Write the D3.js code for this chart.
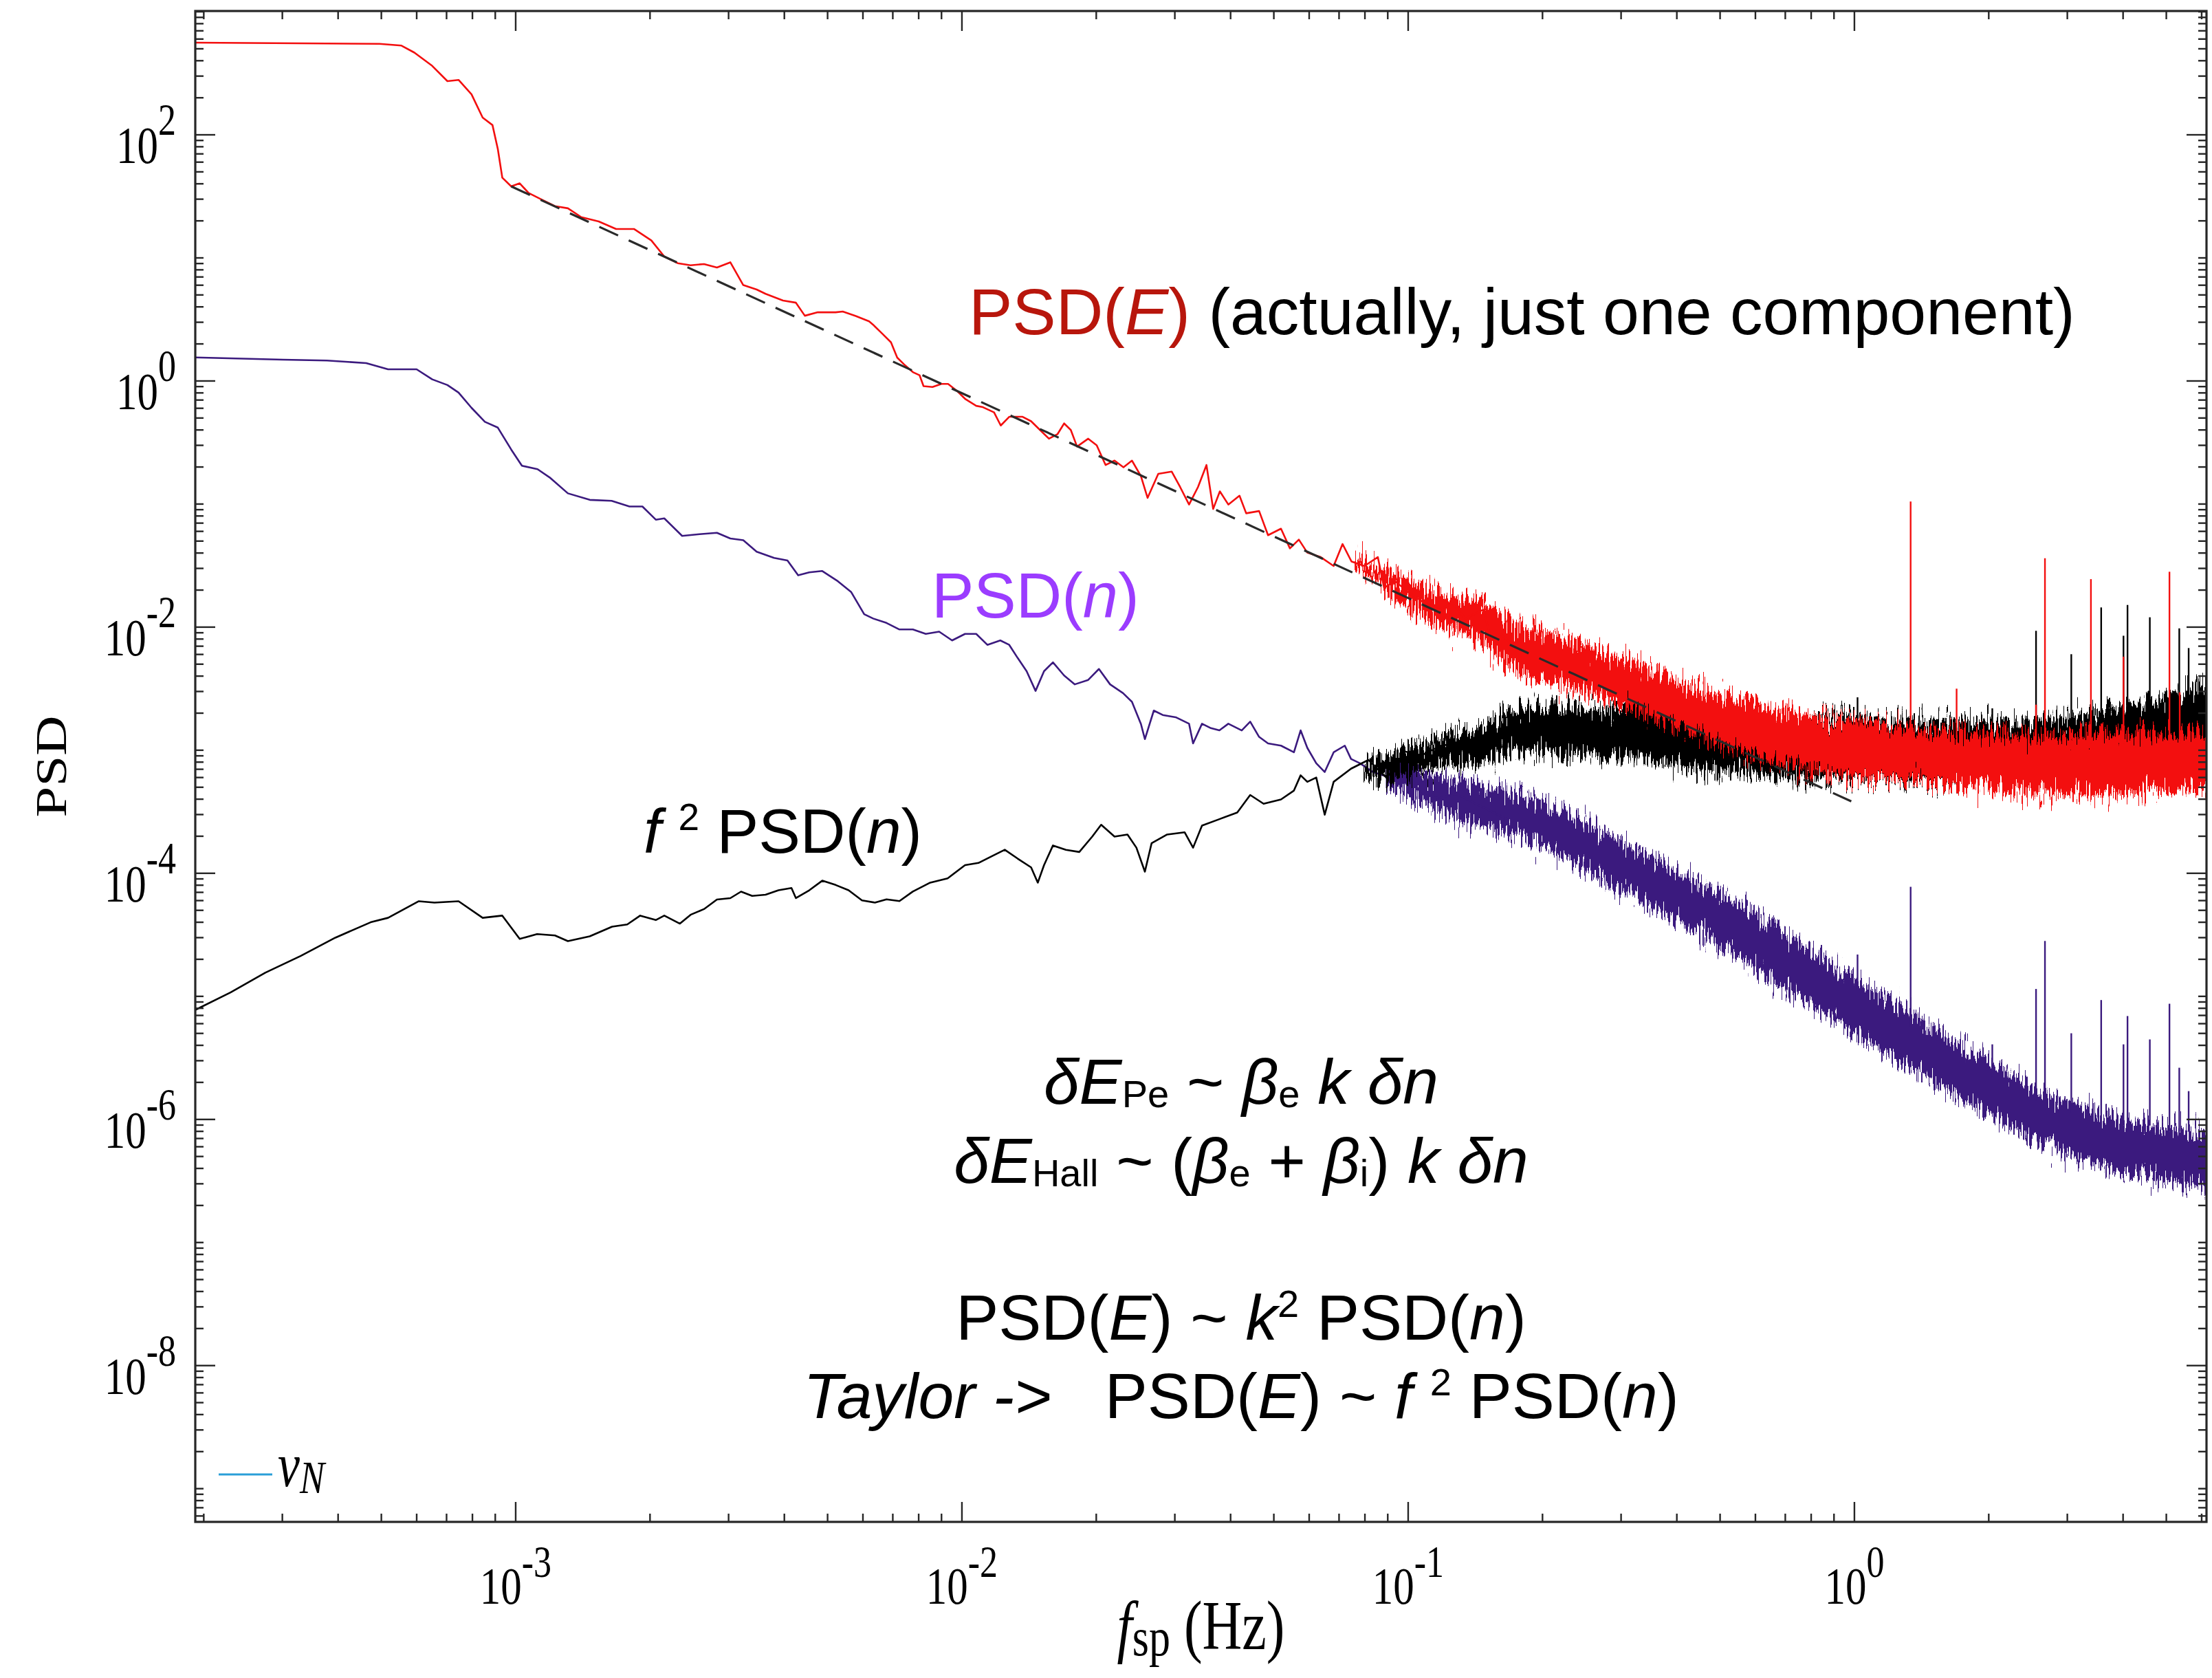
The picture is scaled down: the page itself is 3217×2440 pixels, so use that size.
<!DOCTYPE html>
<html>
<head>
<meta charset="utf-8">
<script src="https://cdn.jsdelivr.net/npm/d3@7"></script>
<style>
  html, body { margin: 0; padding: 0; background: #ffffff; }
  svg { display: block; }
  text { white-space: pre; }
</style>
</head>
<body>
<svg id="chart" width="3217" height="2440"></svg>
<script>
// ---------------------------------------------------------------
// Spectra, stored as [log10 f (Hz), log10 PSD] pairs
// ---------------------------------------------------------------

// PSD(E): resolved low-frequency part of the spectrum
const psdE_line = [
  [-3.718,2.749],[-3.423,2.742],[-3.305,2.739],[-3.256,2.725],[-3.227,2.668],[-3.187,2.560],
  [-3.153,2.436],[-3.128,2.446],[-3.099,2.329],[-3.074,2.140],[-3.052,2.079],[-3.040,1.884],
  [-3.030,1.652],[-3.010,1.581],[-2.991,1.606],[-2.971,1.527],[-2.942,1.474],[-2.912,1.421],
  [-2.883,1.403],[-2.853,1.331],[-2.814,1.296],[-2.775,1.235],[-2.735,1.235],[-2.696,1.142],
  [-2.667,1.011],[-2.637,0.957],[-2.608,0.940],[-2.578,0.950],[-2.549,0.922],[-2.519,0.964],
  [-2.490,0.779],[-2.460,0.743],[-2.440,0.708],[-2.401,0.654],[-2.372,0.636],[-2.352,0.530],
  [-2.323,0.558],[-2.283,0.558],[-2.267,0.564],[-2.238,0.528],[-2.208,0.485],[-2.199,0.457],
  [-2.179,0.386],[-2.159,0.314],[-2.145,0.190],[-2.130,0.136],[-2.110,0.072],[-2.095,0.047],
  [-2.086,-0.042],[-2.066,-0.049],[-2.046,-0.024],[-2.031,-0.024],[-2.012,-0.078],[-1.992,-0.148],
  [-1.968,-0.202],[-1.953,-0.213],[-1.928,-0.255],[-1.913,-0.362],[-1.894,-0.291],[-1.864,-0.291],
  [-1.845,-0.327],[-1.825,-0.398],[-1.805,-0.469],[-1.786,-0.433],[-1.771,-0.345],[-1.756,-0.398],
  [-1.742,-0.533],[-1.717,-0.469],[-1.698,-0.523],[-1.678,-0.683],[-1.658,-0.647],[-1.638,-0.701],
  [-1.619,-0.647],[-1.599,-0.772],[-1.584,-0.950],[-1.560,-0.754],[-1.530,-0.736],[-1.511,-0.862],
  [-1.491,-1.004],[-1.471,-0.862],[-1.452,-0.683],[-1.437,-1.040],[-1.422,-0.897],[-1.403,-1.004],
  [-1.378,-0.932],[-1.363,-1.075],[-1.334,-1.057],[-1.314,-1.253],[-1.285,-1.200],[-1.265,-1.360],
  [-1.245,-1.289],[-1.226,-1.395],[-1.196,-1.431],[-1.167,-1.503],[-1.147,-1.325],[-1.127,-1.467],
  [-1.098,-1.503],[-1.068,-1.431],[-1.054,-1.680],[-1.029,-1.627],[-1.000,-1.716],[-0.970,-1.788],
  [-0.931,-1.859],[-0.901,-1.806],[-0.872,-1.930],[-0.832,-1.859],[-0.813,-2.108],[-0.793,-2.055],
  [-0.766,-2.144]
];
// PSD(E): dense high-frequency noise band, [log10 f, upper, lower]
const psdE_band = [
  [-1.120,-1.42,-1.50],[-1.030,-1.56,-1.76],[-0.931,-1.72,-1.98],
  [-0.833,-1.80,-2.12],[-0.766,-1.97,-2.33],[-0.666,-2.06,-2.46],[-0.566,-2.20,-2.57],
  [-0.466,-2.31,-2.71],[-0.366,-2.49,-2.86],[-0.266,-2.57,-3.00],[-0.166,-2.67,-3.11],
  [-0.066,-2.73,-3.18],[0.034,-2.78,-3.24],[0.134,-2.82,-3.25],[0.234,-2.86,-3.29],
  [0.334,-2.87,-3.33],[0.434,-2.89,-3.36],[0.534,-2.87,-3.36],[0.634,-2.86,-3.34],
  [0.734,-2.86,-3.33],[0.789,-2.86,-3.31]
];

// PSD(n)
const psdN_line = [
  [-3.718,0.191],[-3.521,0.173],[-3.423,0.166],[-3.335,0.145],[-3.286,0.095],[-3.222,0.095],
  [-3.187,0.013],[-3.153,-0.033],[-3.128,-0.094],[-3.099,-0.218],[-3.069,-0.332],[-3.040,-0.379],
  [-3.010,-0.557],[-2.986,-0.689],[-2.951,-0.717],[-2.922,-0.789],[-2.883,-0.913],[-2.834,-0.966],
  [-2.785,-0.974],[-2.745,-1.020],[-2.716,-1.020],[-2.686,-1.127],[-2.667,-1.116],[-2.627,-1.259],
  [-2.588,-1.245],[-2.549,-1.234],[-2.519,-1.280],[-2.490,-1.294],[-2.460,-1.387],[-2.421,-1.437],
  [-2.391,-1.459],[-2.367,-1.579],[-2.342,-1.555],[-2.313,-1.544],[-2.278,-1.627],[-2.248,-1.716],
  [-2.219,-1.895],[-2.199,-1.930],[-2.169,-1.966],[-2.140,-2.019],[-2.110,-2.019],[-2.081,-2.055],
  [-2.051,-2.037],[-2.022,-2.108],[-1.993,-2.055],[-1.968,-2.055],[-1.943,-2.144],[-1.914,-2.108],
  [-1.894,-2.144],[-1.875,-2.251],[-1.855,-2.358],[-1.835,-2.518],[-1.816,-2.358],[-1.796,-2.286],
  [-1.771,-2.393],[-1.747,-2.465],[-1.717,-2.429],[-1.693,-2.340],[-1.668,-2.465],[-1.639,-2.536],
  [-1.619,-2.607],[-1.599,-2.785],[-1.590,-2.910],[-1.570,-2.678],[-1.550,-2.714],[-1.521,-2.732],
  [-1.491,-2.785],[-1.482,-2.945],[-1.462,-2.785],[-1.442,-2.821],[-1.423,-2.839],[-1.403,-2.785],
  [-1.373,-2.839],[-1.354,-2.768],[-1.334,-2.892],[-1.314,-2.945],[-1.285,-2.963],[-1.256,-3.017],
  [-1.241,-2.839],[-1.226,-2.981],[-1.206,-3.106],[-1.187,-3.177],[-1.167,-3.017],[-1.142,-2.963],
  [-1.128,-3.071],[-1.108,-3.106],[-1.079,-3.177],[-1.049,-3.213],[-1.030,-3.249],[-1.000,-3.177],
  [-0.971,-3.355],[-0.931,-3.391],[-0.892,-3.355],[-0.853,-3.426],[-0.813,-3.498],[-0.774,-3.569]
];
const psdN_band = [
  [-1.050,-3.12,-3.28],[-0.931,-3.22,-3.50],[-0.833,-3.30,-3.62],
  [-0.766,-3.35,-3.68],[-0.666,-3.46,-3.84],[-0.566,-3.66,-4.06],[-0.466,-3.85,-4.26],
  [-0.366,-4.04,-4.44],[-0.266,-4.22,-4.66],[-0.166,-4.46,-4.91],[-0.066,-4.71,-5.14],
  [0.034,-4.93,-5.38],[0.134,-5.14,-5.60],[0.234,-5.38,-5.82],[0.334,-5.60,-6.03],
  [0.434,-5.79,-6.22],[0.534,-5.93,-6.35],[0.634,-6.03,-6.46],[0.734,-6.08,-6.52],
  [0.789,-6.10,-6.55]
];

// f^2 PSD(n)
const f2psdN_line = [
  [-3.718,-5.110],[-3.639,-4.968],[-3.561,-4.808],[-3.482,-4.672],[-3.404,-4.523],[-3.325,-4.398],
  [-3.286,-4.362],[-3.217,-4.227],[-3.182,-4.238],[-3.128,-4.227],[-3.074,-4.362],[-3.030,-4.344],
  [-2.991,-4.533],[-2.952,-4.494],[-2.912,-4.505],[-2.883,-4.551],[-2.834,-4.512],[-2.784,-4.434],
  [-2.750,-4.416],[-2.721,-4.344],[-2.686,-4.380],[-2.667,-4.344],[-2.632,-4.409],[-2.608,-4.337],
  [-2.578,-4.291],[-2.549,-4.213],[-2.519,-4.202],[-2.495,-4.149],[-2.470,-4.184],[-2.440,-4.174],
  [-2.411,-4.138],[-2.382,-4.120],[-2.372,-4.202],[-2.342,-4.138],[-2.313,-4.060],[-2.283,-4.095],
  [-2.254,-4.138],[-2.224,-4.220],[-2.195,-4.238],[-2.169,-4.212],[-2.140,-4.226],[-2.110,-4.148],
  [-2.071,-4.076],[-2.032,-4.041],[-1.993,-3.934],[-1.963,-3.916],[-1.934,-3.863],[-1.904,-3.809],
  [-1.875,-3.881],[-1.845,-3.952],[-1.830,-4.076],[-1.816,-3.934],[-1.796,-3.774],[-1.767,-3.809],
  [-1.737,-3.827],[-1.708,-3.702],[-1.688,-3.606],[-1.658,-3.702],[-1.629,-3.685],[-1.609,-3.792],
  [-1.590,-3.987],[-1.575,-3.756],[-1.540,-3.685],[-1.501,-3.667],[-1.482,-3.792],[-1.462,-3.613],
  [-1.423,-3.560],[-1.383,-3.506],[-1.354,-3.364],[-1.324,-3.435],[-1.285,-3.400],[-1.256,-3.328],
  [-1.241,-3.204],[-1.226,-3.257],[-1.206,-3.222],[-1.187,-3.524],[-1.167,-3.257],[-1.128,-3.150],
  [-1.089,-3.079],[-1.049,-3.222],[-1.030,-3.150],[-1.010,-3.008],[-0.971,-3.043],[-0.931,-2.972],
  [-0.892,-2.936],[-0.853,-3.008],[-0.813,-2.901],[-0.774,-2.865]
];
const f2psdN_band = [
  [-1.100,-3.12,-3.24],[-1.030,-3.00,-3.22],[-0.931,-2.90,-3.13],[-0.833,-2.80,-3.10],
  [-0.766,-2.68,-3.02],[-0.666,-2.65,-3.03],[-0.566,-2.66,-3.07],[-0.466,-2.64,-3.07],
  [-0.366,-2.67,-3.15],[-0.266,-2.69,-3.18],[-0.166,-2.71,-3.22],[-0.066,-2.71,-3.24],
  [0.034,-2.73,-3.25],[0.134,-2.75,-3.27],[0.234,-2.76,-3.29],[0.334,-2.76,-3.31],
  [0.434,-2.75,-3.33],[0.534,-2.69,-3.31],[0.634,-2.62,-3.25],[0.734,-2.53,-3.22],
  [0.789,-2.46,-3.18]
];

// Narrow spectral lines: [log10 f, log10 top, log10 base]
const spikesE = [
  [0.126,-0.98,-2.90],[0.229,-2.50,-2.90],[0.407,-2.63,-2.95],[0.427,-1.44,-2.95],
  [0.530,-1.61,-2.95],[0.603,-2.24,-2.95],[0.706,-1.55,-2.95],[0.729,-2.53,-2.95]
];
const spikesF2N = [
  [0.007,-2.57,-2.75],[0.309,-2.66,-2.80],[0.407,-2.03,-2.75],[0.486,-2.22,-2.75],
  [0.553,-1.84,-2.75],[0.603,-2.07,-2.75],[0.612,-1.82,-2.75],[0.662,-1.92,-2.70],
  [0.728,-2.01,-2.60],[0.749,-2.17,-2.60]
];
const spikesN = [
  [0.007,-4.66,-4.95],[0.126,-4.11,-5.25],[0.309,-5.39,-5.65],[0.407,-4.94,-5.85],
  [0.427,-4.55,-5.85],[0.486,-5.30,-5.95],[0.553,-5.03,-6.00],[0.603,-5.39,-6.05],
  [0.612,-5.16,-6.05],[0.662,-5.35,-6.05],[0.706,-5.06,-6.10],[0.728,-5.58,-6.10],
  [0.749,-5.77,-6.10]
];

// f^(-5/3) reference slope
const fitLine = [[-3.010,1.581],[-0.007,-3.416]];

// Axis decorations
const xTickExps = [-3, -2, -1, 0];
const yTickExps = [2, 0, -2, -4, -6, -8];
const legendItems = [{ label: "v", sub: "N", color: "#2a9fd8" }];

// ---------------------------------------------------------------
const colors = { E: "#f30f0f", N: "#3b1a7e", F2N: "#000000", textE: "#b8160c", textN: "#9b3cff" };
const plot = { left: 284, right: 3209, top: 16, bottom: 2213 };

const svg = d3.select("#chart");
svg.append("rect").attr("width", 3217).attr("height", 2440).attr("fill", "#fff");

const x = d3.scaleLog().domain([10 ** -3.718, 10 ** 0.789]).range([plot.left, plot.right]);
const y = d3.scaleLog().domain([10 ** -9.27, 10 ** 3.006]).range([plot.bottom, plot.top]);

const pts = arr => arr.map(([lf, lv]) => ({ f: 10 ** lf, v: 10 ** lv }));
const band = arr => arr.map(([lf, hi, lo]) => ({ f: 10 ** lf, hi: 10 ** hi, lo: 10 ** lo }));

const line = d3.line().x(d => x(d.f)).y(d => y(d.v));
const area = d3.area().x(d => x(d.f)).y0(d => y(d.lo)).y1(d => y(d.hi)).curve(d3.curveMonotoneX);

const defs = svg.append("defs");
defs.append("clipPath").attr("id", "clip").append("rect")
  .attr("x", plot.left).attr("y", plot.top)
  .attr("width", plot.right - plot.left).attr("height", plot.bottom - plot.top);

// ragged edge for the unresolved noise floor (vertical jitter only)
const rough = defs.append("filter").attr("id", "rough")
  .attr("x", "-1%").attr("y", "-30%").attr("width", "102%").attr("height", "160%")
  .attr("color-interpolation-filters", "sRGB");
rough.append("feTurbulence").attr("type", "fractalNoise").attr("baseFrequency", "0.42 0.025")
  .attr("numOctaves", 2).attr("seed", 11).attr("result", "noise");
rough.append("feColorMatrix").attr("in", "noise").attr("type", "matrix")
  .attr("values", "0 0 0 0 0.5  0 1 0 0 0  0 0 1 0 0  0 0 0 0 1").attr("result", "dmap");
rough.append("feDisplacementMap").attr("in", "SourceGraphic").attr("in2", "dmap")
  .attr("scale", 80).attr("xChannelSelector", "R").attr("yChannelSelector", "G");

const g = svg.append("g").attr("clip-path", "url(#clip)");

function drawSeries(lineData, bandData, spikes, color) {
  const s = g.append("g");
  s.append("path").datum(band(bandData)).attr("d", area)
    .attr("fill", color).attr("filter", "url(#rough)");
  s.append("path").datum(pts(lineData)).attr("d", line)
    .attr("fill", "none").attr("stroke", color).attr("stroke-width", 2.6).attr("stroke-linejoin", "round");
  s.selectAll(null).data(spikes).enter().append("line")
    .attr("x1", d => x(10 ** d[0])).attr("x2", d => x(10 ** d[0]))
    .attr("y1", d => y(10 ** d[1])).attr("y2", d => y(10 ** d[2]))
    .attr("stroke", color).attr("stroke-width", 2.4);
}

drawSeries(psdN_line, psdN_band, spikesN, colors.N);
drawSeries(f2psdN_line, f2psdN_band, spikesF2N, colors.F2N);
drawSeries(psdE_line, psdE_band, spikesE, colors.E);

g.append("path").datum(pts(fitLine)).attr("d", line)
  .attr("fill", "none").attr("stroke", "#2a2a2a").attr("stroke-width", 3.2)
  .attr("stroke-dasharray", "30 17");

// ---------------------------------------------------------------
// Axes box with inward ticks on all four sides
const axisColor = "#262626";
const ax = svg.append("g").attr("stroke", axisColor).attr("fill", "none");
const majorLen = 29, minorLen = 12;

const xDom = x.domain(), yDom = y.domain();
const xTicks = [], yTicks = [];
for (let k = -5; k <= 2; k++) for (let m = 1; m <= 9; m++) {
  const v = m * 10 ** k;
  if (v >= xDom[0] && v <= xDom[1]) xTicks.push({ v, major: m === 1 && xTickExps.includes(k) });
}
for (let k = -10; k <= 3; k++) for (let m = 1; m <= 9; m++) {
  const v = m * 10 ** k;
  if (v >= yDom[0] && v <= yDom[1]) yTicks.push({ v, major: m === 1 && yTickExps.includes(k) });
}
xTicks.forEach(t => {
  const px = x(t.v), L = t.major ? majorLen : minorLen;
  ax.append("line").attr("x1", px).attr("x2", px).attr("y1", plot.bottom).attr("y2", plot.bottom - L).attr("stroke-width", 2.4);
  ax.append("line").attr("x1", px).attr("x2", px).attr("y1", plot.top).attr("y2", plot.top + L).attr("stroke-width", 2.4);
});
yTicks.forEach(t => {
  const py = y(t.v), L = t.major ? majorLen : minorLen;
  ax.append("line").attr("x1", plot.left).attr("x2", plot.left + L).attr("y1", py).attr("y2", py).attr("stroke-width", 2.4);
  ax.append("line").attr("x1", plot.right).attr("x2", plot.right - L).attr("y1", py).attr("y2", py).attr("stroke-width", 2.4);
});
ax.append("rect").attr("x", plot.left).attr("y", plot.top)
  .attr("width", plot.right - plot.left).attr("height", plot.bottom - plot.top)
  .attr("stroke-width", 3.2);

// ---------------------------------------------------------------
// Text helpers
const serif = "'Liberation Serif', 'Times New Roman', Times, serif";
const sans = "'Liberation Sans', Arial, Helvetica, sans-serif";
const stretch = 1.26;   // axis text is drawn vertically elongated

function rich(parent, opt, segs) {
  const t = parent.append("text")
    .attr("x", opt.x || 0).attr("y", opt.y || 0)
    .attr("text-anchor", opt.anchor || "start")
    .attr("font-family", opt.family).attr("font-size", opt.size)
    .attr("fill", opt.color || "#000");
  if (opt.transform) t.attr("transform", opt.transform);
  let shift = 0;
  segs.forEach(s => {
    const ts = t.append("tspan").text(s.t);
    const target = s.sup ? -(s.raise != null ? s.raise : opt.size * 0.36)
                 : s.sub ? (s.drop != null ? s.drop : opt.size * 0.06) : 0;
    if (target !== shift) ts.attr("dy", target - shift);
    shift = target;
    if (s.size) ts.attr("font-size", s.size);
    if (s.i) ts.attr("font-style", "italic");
    if (s.c) ts.attr("fill", s.c);
  });
  return t;
}

// y tick labels
yTickExps.forEach(k => {
  const py = y(10 ** k);
  const grp = svg.append("g").attr("transform", `translate(256,${py}) scale(1,${stretch})`);
  rich(grp, { x: 0, y: 32.5, anchor: "end", family: serif, size: 61 }, [
    { t: "10" },
    { t: k < 0 ? "-" + (-k) : String(k), sup: true, raise: 32.5, size: 52 }
  ]);
});
// x tick labels
xTickExps.forEach(k => {
  const px = x(10 ** k);
  const grp = svg.append("g").attr("transform", `translate(${px},2332) scale(1,${stretch})`);
  rich(grp, { x: 0, y: 0, anchor: "middle", family: serif, size: 61 }, [
    { t: "10" },
    { t: k < 0 ? "-" + (-k) : String(k), sup: true, raise: 31, size: 52 }
  ]);
});

// axis titles
rich(svg.append("g").attr("transform", `translate(96,${(plot.top + plot.bottom) / 2}) scale(1,${stretch}) rotate(-90)`),
  { x: 0, y: 0, anchor: "middle", family: serif, size: 64 }, [{ t: "PSD" }]);
rich(svg.append("g").attr("transform", `translate(${(plot.left + plot.right) / 2},2398) scale(1,${stretch})`),
  { x: 0, y: 0, anchor: "middle", family: serif, size: 80 }, [
    { t: "f", i: true }, { t: "sp", sub: true, drop: 7, size: 62 }, { t: " (Hz)" }
  ]);

// legend
legendItems.forEach((it, i) => {
  const ly = 2144 + i * 70;
  svg.append("line").attr("x1", 318).attr("x2", 396).attr("y1", ly).attr("y2", ly)
    .attr("stroke", it.color).attr("stroke-width", 3.2);
  const grp = svg.append("g").attr("transform", `translate(404,${ly + 17}) scale(1,${stretch})`);
  rich(grp, { x: 0, y: 0, family: serif, size: 72 }, [
    { t: it.label, i: true }, { t: it.sub, i: true, sub: true, drop: 8, size: 54 }
  ]);
});

// ---------------------------------------------------------------
// Annotations
rich(svg, { x: 1409, y: 486, family: sans, size: 95 }, [
  { t: "PSD(", c: colors.textE }, { t: "E", i: true, c: colors.textE }, { t: ")", c: colors.textE },
  { t: " (actually, just one component)" }
]);
rich(svg, { x: 1355, y: 898, family: sans, size: 92, color: colors.textN }, [
  { t: "PSD(" }, { t: "n", i: true }, { t: ")" }
]);
rich(svg, { x: 936, y: 1240, family: sans, size: 91 }, [
  { t: "f", i: true }, { t: " " }, { t: "2", sup: true, size: 55 }, { t: " PSD(" }, { t: "n", i: true }, { t: ")" }
]);

const fs = 93, subS = 56, cx = 1805;
rich(svg, { x: cx, y: 1605, anchor: "middle", family: sans, size: fs }, [
  { t: "\u03B4E", i: true }, { t: "Pe", sub: true, drop: 5, size: subS }, { t: " ~ " },
  { t: "\u03B2", i: true }, { t: "e", sub: true, drop: 5, size: subS }, { t: " " },
  { t: "k", i: true }, { t: " " }, { t: "\u03B4n", i: true }
]);
rich(svg, { x: cx, y: 1720, anchor: "middle", family: sans, size: fs }, [
  { t: "\u03B4E", i: true }, { t: "Hall", sub: true, drop: 5, size: subS }, { t: " ~ (" },
  { t: "\u03B2", i: true }, { t: "e", sub: true, drop: 5, size: subS }, { t: " + " },
  { t: "\u03B2", i: true }, { t: "i", sub: true, drop: 5, size: subS }, { t: ") " },
  { t: "k", i: true }, { t: " " }, { t: "\u03B4n", i: true }
]);
rich(svg, { x: cx, y: 1948, anchor: "middle", family: sans, size: fs }, [
  { t: "PSD(" }, { t: "E", i: true }, { t: ") ~ " }, { t: "k", i: true },
  { t: "2", sup: true, size: subS }, { t: " PSD(" }, { t: "n", i: true }, { t: ")" }
]);
rich(svg, { x: cx, y: 2062, anchor: "middle", family: sans, size: fs }, [
  { t: "Taylor ->", i: true }, { t: "   PSD(" }, { t: "E", i: true }, { t: ") ~ " },
  { t: "f", i: true }, { t: " " }, { t: "2", sup: true, size: subS }, { t: " PSD(" },
  { t: "n", i: true }, { t: ")" }
]);
</script>
</body>
</html>
